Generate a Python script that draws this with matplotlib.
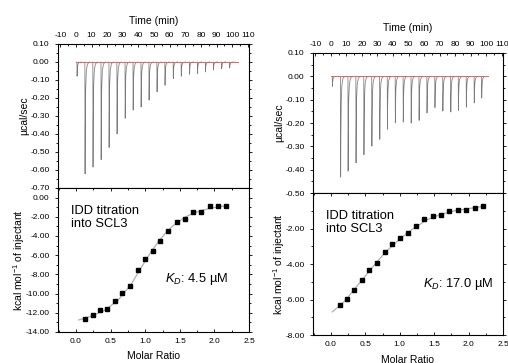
import numpy as np
import matplotlib
matplotlib.use('Agg')
import matplotlib.pyplot as plt
from matplotlib.ticker import MultipleLocator, FormatStrFormatter, FixedLocator

plt.rcParams['font.family'] = ['Liberation Sans', 'DejaVu Sans']
plt.rcParams['mathtext.fontset'] = 'custom'
plt.rcParams['mathtext.rm'] = 'Liberation Sans'
plt.rcParams['mathtext.it'] = 'Liberation Sans:italic'
plt.rcParams['axes.unicode_minus'] = False

# raw thermogram: injection times (min) and peak heights (ucal/sec)
left_inj_time = [0.6, 5.7, 10.8, 16.0, 21.1, 26.2, 31.4, 36.5, 41.6, 46.7,
                 51.8, 56.9, 62.2, 67.3, 72.6, 77.7, 82.8, 87.9, 93.2, 98.3]
left_inj_peak = [-0.079, -0.622, -0.584, -0.543, -0.475, -0.400, -0.313, -0.267, -0.250, -0.212,
                 -0.166, -0.129, -0.092, -0.079, -0.068, -0.064, -0.055, -0.044, -0.037, -0.033]
right_inj_time = [0.9, 6.2, 11.0, 16.1, 21.2, 26.3, 31.4, 36.3, 41.4, 46.5,
                  51.6, 56.7, 61.8, 66.9, 72.0, 77.1, 82.0, 87.1, 92.2, 97.0]
right_inj_peak = [-0.043, -0.432, -0.406, -0.371, -0.336, -0.299, -0.270, -0.227, -0.199, -0.196,
                  -0.200, -0.189, -0.157, -0.134, -0.149, -0.153, -0.146, -0.132, -0.114, -0.093]
left_baseline_end = 103.7
right_baseline_end = 101.3

# shape of one injection peak (time after injection, fraction of peak)
peak_dt = [0, 0.12, 0.25, 0.5, 0.9, 1.6, 2.8]
peak_frac = [0, 1.0, 0.6, 0.25, 0.09, 0.02, 0]

# integrated heats
left_ratio = [0.134, 0.24, 0.346, 0.452, 0.562, 0.668, 0.778, 0.889, 0.999, 1.11,
              1.22, 1.335, 1.455, 1.57, 1.69, 1.805, 1.93, 2.05, 2.17]
left_heat = [-12.67, -12.28, -11.72, -11.58, -10.81, -9.89, -9.16, -7.54, -6.39, -5.54,
             -4.53, -3.44, -2.56, -2.21, -1.54, -1.54, -0.88, -0.88, -0.84]
left_fit_x = [0.04, 0.2, 0.4, 0.6, 0.8, 0.9, 1.0, 1.1, 1.2, 1.3, 1.4, 1.5, 1.6, 1.7, 1.8, 1.9, 2.0, 2.1, 2.17]
left_fit_y = [-12.75, -12.4, -11.8, -10.75, -9.0, -7.8, -6.6, -5.5, -4.5, -3.65, -2.95, -2.4,
              -1.95, -1.62, -1.38, -1.18, -1.03, -0.92, -0.86]

right_ratio = [0.13, 0.236, 0.342, 0.448, 0.559, 0.67, 0.78, 0.892, 1.007, 1.123,
               1.239, 1.359, 1.48, 1.60, 1.716, 1.84, 1.96, 2.087, 2.207]
right_heat = [-6.33, -5.98, -5.44, -4.89, -4.34, -3.92, -3.33, -2.88, -2.54, -2.24,
              -1.86, -1.48, -1.31, -1.25, -1.02, -0.98, -0.97, -0.85, -0.74]
right_fit_x = [0.02, 0.2, 0.4, 0.6, 0.8, 1.0, 1.2, 1.4, 1.6, 1.8, 2.0, 2.2]
right_fit_y = [-6.7, -6.1, -5.15, -4.2, -3.3, -2.6, -2.0, -1.5, -1.2, -1.0, -0.88, -0.76]

kd_text = ['$K_D$: 4.5 µM', '$K_D$: 17.0 µM']
label_text = 'IDD titration\ninto SCL3'


def style(ax):
    for s in ax.spines.values():
        s.set_linewidth(0.8)
    ax.tick_params(which='both', direction='in', top=True, right=True, labelsize=6, width=0.6)
    ax.tick_params(axis='y', which='both', direction='out', left=True)
    ax.tick_params(which='major', length=2.5)
    ax.tick_params(which='minor', length=1.3)


def thermogram(ax, times, peaks, base_end, ylim, tpad):
    for t, p in zip(times, peaks):
        ax.plot([t + d for d in peak_dt], [p * f for f in peak_frac], color='#7a7a7a', lw=0.55)
    ax.plot([0, base_end], [0, 0], color='#d86a6a', lw=0.7)
    ax.set_xlim(-11.5, 110.8)
    ax.set_ylim(*ylim)
    ax.xaxis.tick_top()
    ax.xaxis.set_label_position('top')
    ax.set_xlabel('Time (min)', fontsize=7.5, labelpad=tpad)
    ax.set_ylabel('µcal/sec', fontsize=7.5, labelpad=1)
    ax.xaxis.set_major_locator(MultipleLocator(10))
    ax.xaxis.set_minor_locator(MultipleLocator(5))
    ax.yaxis.set_major_locator(MultipleLocator(0.1))
    ax.yaxis.set_minor_locator(MultipleLocator(0.05))
    ax.yaxis.set_major_formatter(FormatStrFormatter('%.2f'))
    style(ax)
    ax.tick_params(axis='x', pad=3.5)


def isotherm(ax, xs, ys, fx, fy, ylim, kd, kd_pos, yticks):
    ax.plot(fx, fy, color='#b0b0b0', lw=0.9)
    ax.plot(xs, ys, 's', color='black', markersize=3.2)
    ax.set_xlim(-0.26, 2.5)
    ax.set_ylim(*ylim)
    ax.set_xlabel('Molar Ratio', fontsize=7.5, labelpad=5)
    ax.set_ylabel('kcal mol$^{-1}$ of injectant', fontsize=7.5, labelpad=-1)
    ax.xaxis.set_major_locator(MultipleLocator(0.5))
    ax.xaxis.set_minor_locator(MultipleLocator(0.25))
    ax.xaxis.set_major_formatter(FormatStrFormatter('%.1f'))
    ax.yaxis.set_major_locator(FixedLocator(yticks))
    ax.yaxis.set_minor_locator(MultipleLocator(1))
    ax.yaxis.set_major_formatter(FormatStrFormatter('%.2f'))
    style(ax)
    ax.tick_params(axis='x', pad=4)
    ax.text(0.07, 0.88, label_text, transform=ax.transAxes, fontsize=9.3,
            va='top', ha='left', linespacing=1.1)
    ax.text(kd_pos[0], kd_pos[1], kd, transform=ax.transAxes, fontsize=9.3,
            va='center', ha='left')


fig = plt.figure(figsize=(5.08, 3.63), dpi=100)

ax1 = fig.add_axes([0.1142, 0.4821, 0.376, 0.3967])
ax2 = fig.add_axes([0.1142, 0.0854, 0.376, 0.3967])
ax3 = fig.add_axes([0.6161, 0.4683, 0.374, 0.3857])
ax4 = fig.add_axes([0.6161, 0.0771, 0.374, 0.3912])

thermogram(ax1, left_inj_time, left_inj_peak, left_baseline_end, (-0.70, 0.10), 6)
thermogram(ax3, right_inj_time, right_inj_peak, right_baseline_end, (-0.50, 0.10), 7)

isotherm(ax2, left_ratio, left_heat, left_fit_x, left_fit_y, (-14, 1.0),
         kd_text[0], (0.56, 0.37), [0, -2, -4, -6, -8, -10, -12, -14])
isotherm(ax4, right_ratio, right_heat, right_fit_x, right_fit_y, (-8, 0),
         kd_text[1], (0.58, 0.36), [-2, -4, -6, -8])

fig.savefig('out.png', dpi=100)
